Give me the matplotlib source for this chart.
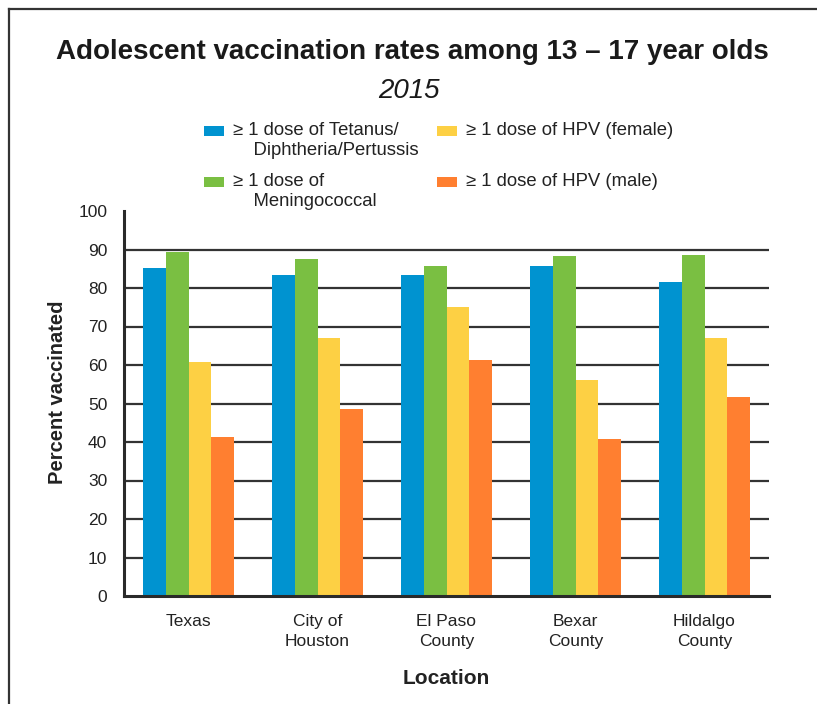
import matplotlib
matplotlib.use("Agg")
import matplotlib.pyplot as plt
from matplotlib.patches import Rectangle
from matplotlib.lines import Line2D
import numpy as np

plt.rcParams['font.family'] = ['Liberation Sans Narrow', 'Liberation Sans', 'DejaVu Sans']

locations = ["Texas", "City of\nHouston", "El Paso\nCounty", "Bexar\nCounty", "Hildalgo\nCounty"]
series_names = [
    "\u2265 1 dose of Tetanus/\n    Diphtheria/Pertussis",
    "\u2265 1 dose of\n    Meningococcal",
    "\u2265 1 dose of HPV (female)",
    "\u2265 1 dose of HPV (male)",
]
tdap = [85.1, 83.3, 83.3, 85.6, 81.5]
mening = [89.4, 87.5, 85.6, 88.2, 88.7]
hpv_female = [60.7, 66.9, 75.0, 56.0, 66.9]
hpv_male = [41.2, 48.7, 61.2, 40.7, 51.8]
colors = ["#0093D0", "#7ABF42", "#FDD044", "#FF7F30"]
yticks = list(range(0, 101, 10))

W, H = 817, 704
fig = plt.figure(figsize=(W / 100, H / 100), dpi=100)

# outer frame (left and top edges)
fig.add_artist(Line2D([9 / W, 9 / W], [0, 1 - 9 / H], transform=fig.transFigure,
                      color="#333333", lw=1.6))
fig.add_artist(Line2D([9 / W, 1], [1 - 9 / H, 1 - 9 / H], transform=fig.transFigure,
                      color="#333333", lw=1.6))

ax = fig.add_axes([124 / W, 1 - 596 / H, (769 - 124) / W, (596 - 211) / H])

x = np.arange(len(locations))
w = 0.178
all_series = [tdap, mening, hpv_female, hpv_male]
for k, (vals, c) in enumerate(zip(all_series, colors)):
    ax.bar(x + (k - 1.5) * w, vals, width=w, color=c, zorder=3, linewidth=0)

ax.set_xlim(-0.5, len(locations) - 0.5)
ax.set_ylim(0, 100)
for yv in yticks[1:-1]:
    ax.axhline(yv, color="#333333", lw=1.6, zorder=1)

for s in ["top", "right"]:
    ax.spines[s].set_visible(False)
for s in ["left", "bottom"]:
    ax.spines[s].set_color("#2a2a2a")
    ax.spines[s].set_linewidth(2.2)
    ax.spines[s].set_zorder(4)

ax.set_yticks(yticks)
ax.set_yticklabels([str(v) for v in yticks], fontsize=12.5, color="#222222")
ax.set_xticks(x)
ax.set_xticklabels(locations, fontsize=12.5, color="#222222", linespacing=1.4, va="top")
ax.tick_params(axis="y", length=0, pad=12)
ax.tick_params(axis="x", length=0, pad=13)

ax.set_ylabel("Percent vaccinated", fontsize=14.5, fontweight="bold", color="#222222")
ax.yaxis.set_label_coords((58 - 124) / (769 - 124), (596 - 392) / (596 - 211))
ax.set_xlabel("Location", fontsize=15, fontweight="bold", color="#222222")
ax.xaxis.set_label_coords(0.5, -(678 - 596) / (596 - 211))
ax.xaxis.label.set_va("center")
ax.yaxis.label.set_va("center")

fig.text(412 / W, 1 - 52 / H, "Adolescent vaccination rates among 13 \u2013 17 year olds",
         ha="center", va="center", fontsize=20, fontweight="bold", color="#1a1a1a")
fig.text(409 / W, 1 - 91 / H, "2015", ha="center", va="center", fontsize=20,
         fontstyle="italic", color="#1a1a1a")

# legend, two columns
legend_pos = [(204, 126), (204, 177), (437, 126), (437, 177)]
for (lx, ly), name, c in zip(legend_pos, series_names, colors):
    fig.add_artist(Rectangle((lx / W, 1 - (ly + 10) / H), 20 / W, 10 / H,
                             transform=fig.transFigure, color=c, lw=0))
    fig.text((lx + 29) / W, 1 - (ly - 4) / H, name, ha="left", va="top",
             fontsize=13.3, color="#222222", linespacing=1.25)

fig.savefig("out.png", dpi=100)
